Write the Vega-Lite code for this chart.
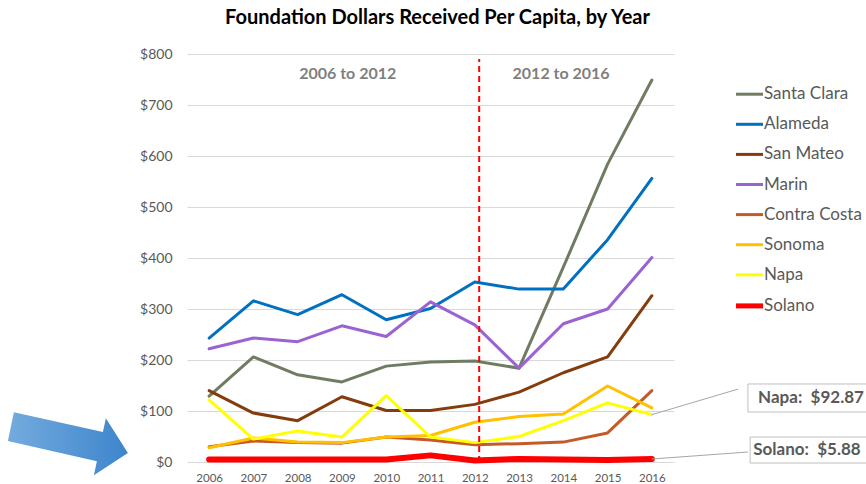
{
  "$schema": "https://vega.github.io/schema/vega-lite/v6.json",
  "width": 487,
  "height": 408,
  "autosize": {"type": "none"},
  "padding": {"left": 187, "top": 54, "right": 192, "bottom": 22},
  "background": "white",
  "config": {"view": {"stroke": null}, "font": "Lato"},
  "title": {"text": "Foundation Dollars Received Per Capita, by Year", "font": "Lato", "fontSize": 20, "fontWeight": "bold", "color": "#000000", "anchor": "middle", "offset": 19, "dx": 7},
  "datasets": {
    "series": [
      {"county": "Santa Clara", "year": 2006, "value": 129},
      {"county": "Santa Clara", "year": 2007, "value": 206},
      {"county": "Santa Clara", "year": 2008, "value": 171},
      {"county": "Santa Clara", "year": 2009, "value": 157},
      {"county": "Santa Clara", "year": 2010, "value": 188},
      {"county": "Santa Clara", "year": 2011, "value": 196},
      {"county": "Santa Clara", "year": 2012, "value": 198},
      {"county": "Santa Clara", "year": 2013, "value": 184},
      {"county": "Santa Clara", "year": 2014, "value": 382},
      {"county": "Santa Clara", "year": 2015, "value": 584},
      {"county": "Santa Clara", "year": 2016, "value": 749},
      {"county": "Alameda", "year": 2006, "value": 243},
      {"county": "Alameda", "year": 2007, "value": 316},
      {"county": "Alameda", "year": 2008, "value": 289},
      {"county": "Alameda", "year": 2009, "value": 328},
      {"county": "Alameda", "year": 2010, "value": 279},
      {"county": "Alameda", "year": 2011, "value": 301},
      {"county": "Alameda", "year": 2012, "value": 353},
      {"county": "Alameda", "year": 2013, "value": 339},
      {"county": "Alameda", "year": 2014, "value": 339},
      {"county": "Alameda", "year": 2015, "value": 436},
      {"county": "Alameda", "year": 2016, "value": 556},
      {"county": "San Mateo", "year": 2006, "value": 140},
      {"county": "San Mateo", "year": 2007, "value": 96},
      {"county": "San Mateo", "year": 2008, "value": 81},
      {"county": "San Mateo", "year": 2009, "value": 128},
      {"county": "San Mateo", "year": 2010, "value": 101},
      {"county": "San Mateo", "year": 2011, "value": 101},
      {"county": "San Mateo", "year": 2012, "value": 113},
      {"county": "San Mateo", "year": 2013, "value": 137},
      {"county": "San Mateo", "year": 2014, "value": 175},
      {"county": "San Mateo", "year": 2015, "value": 206},
      {"county": "San Mateo", "year": 2016, "value": 326},
      {"county": "Marin", "year": 2006, "value": 222},
      {"county": "Marin", "year": 2007, "value": 243},
      {"county": "Marin", "year": 2008, "value": 236},
      {"county": "Marin", "year": 2009, "value": 267},
      {"county": "Marin", "year": 2010, "value": 246},
      {"county": "Marin", "year": 2011, "value": 314},
      {"county": "Marin", "year": 2012, "value": 269},
      {"county": "Marin", "year": 2013, "value": 184},
      {"county": "Marin", "year": 2014, "value": 271},
      {"county": "Marin", "year": 2015, "value": 300},
      {"county": "Marin", "year": 2016, "value": 401},
      {"county": "Contra Costa", "year": 2006, "value": 30},
      {"county": "Contra Costa", "year": 2007, "value": 41},
      {"county": "Contra Costa", "year": 2008, "value": 38},
      {"county": "Contra Costa", "year": 2009, "value": 37},
      {"county": "Contra Costa", "year": 2010, "value": 49},
      {"county": "Contra Costa", "year": 2011, "value": 43},
      {"county": "Contra Costa", "year": 2012, "value": 34},
      {"county": "Contra Costa", "year": 2013, "value": 36},
      {"county": "Contra Costa", "year": 2014, "value": 39},
      {"county": "Contra Costa", "year": 2015, "value": 57},
      {"county": "Contra Costa", "year": 2016, "value": 140},
      {"county": "Sonoma", "year": 2006, "value": 28},
      {"county": "Sonoma", "year": 2007, "value": 47},
      {"county": "Sonoma", "year": 2008, "value": 39},
      {"county": "Sonoma", "year": 2009, "value": 38},
      {"county": "Sonoma", "year": 2010, "value": 49},
      {"county": "Sonoma", "year": 2011, "value": 52},
      {"county": "Sonoma", "year": 2012, "value": 78},
      {"county": "Sonoma", "year": 2013, "value": 89},
      {"county": "Sonoma", "year": 2014, "value": 94},
      {"county": "Sonoma", "year": 2015, "value": 149},
      {"county": "Sonoma", "year": 2016, "value": 106},
      {"county": "Napa", "year": 2006, "value": 122},
      {"county": "Napa", "year": 2007, "value": 45},
      {"county": "Napa", "year": 2008, "value": 61},
      {"county": "Napa", "year": 2009, "value": 49},
      {"county": "Napa", "year": 2010, "value": 130},
      {"county": "Napa", "year": 2011, "value": 49},
      {"county": "Napa", "year": 2012, "value": 38},
      {"county": "Napa", "year": 2013, "value": 50},
      {"county": "Napa", "year": 2014, "value": 81},
      {"county": "Napa", "year": 2015, "value": 116},
      {"county": "Napa", "year": 2016, "value": 92.87},
      {"county": "Solano", "year": 2006, "value": 5},
      {"county": "Solano", "year": 2007, "value": 5},
      {"county": "Solano", "year": 2008, "value": 5},
      {"county": "Solano", "year": 2009, "value": 5},
      {"county": "Solano", "year": 2010, "value": 5},
      {"county": "Solano", "year": 2011, "value": 13},
      {"county": "Solano", "year": 2012, "value": 3},
      {"county": "Solano", "year": 2013, "value": 6},
      {"county": "Solano", "year": 2014, "value": 5},
      {"county": "Solano", "year": 2015, "value": 4},
      {"county": "Solano", "year": 2016, "value": 5.88}
    ]
  },
  "layer": [
    {
      "data": {"name": "series"},
      "mark": {"type": "line", "strokeJoin": "round", "strokeCap": "round"},
      "encoding": {
        "x": {"field": "year", "type": "quantitative",
          "scale": {"domain": [2005.5, 2016.5], "nice": false, "zero": false},
          "axis": {"values": [2006, 2007, 2008, 2009, 2010, 2011, 2012, 2013, 2014, 2015, 2016], "format": "d", "title": null, "grid": false, "domain": false, "ticks": false, "labelFont": "Lato", "labelFontSize": 11.5, "labelColor": "#595959", "labelPadding": 10, "labelFlush": false}},
        "y": {"field": "value", "type": "quantitative",
          "scale": {"domain": [0, 800], "nice": false, "zero": false},
          "axis": {"values": [0, 100, 200, 300, 400, 500, 600, 700, 800], "format": "$.0f", "title": null, "domain": false, "ticks": false, "grid": true, "gridColor": "#d9d9d9", "gridWidth": 1, "labelFont": "Lato", "labelFontSize": 14, "labelColor": "#595959", "labelPadding": 15}},
        "color": {"field": "county", "type": "nominal",
          "scale": {"domain": ["Santa Clara", "Alameda", "San Mateo", "Marin", "Contra Costa", "Sonoma", "Napa", "Solano"],
            "range": ["#6f7c61", "#0070c0", "#843c0c", "#9b63d1", "#c55a28", "#ffc000", "#ffff00", "#ff0000"]},
          "legend": {"title": null, "orient": "none", "legendX": 554, "legendY": 31.7, "symbolType": "stroke", "symbolSize": 729, "symbolStrokeWidth": 3, "labelFont": "Lato", "labelFontSize": 17, "labelColor": "#595959", "labelOffset": 6, "rowPadding": 12.1, "padding": 0,
            "encode": {"symbols": {"update": {"strokeWidth": {"signal": "datum.value === 'Solano' ? 5 : 3"}}}}}},
        "strokeWidth": {"condition": {"test": "datum.county === 'Solano'", "value": 6}, "value": 3}
      }
    },
    {
      "data": {"values": [{"year": 2012.1, "value": 0, "value2": 790}]},
      "mark": {"type": "rule", "color": "#ff0000", "strokeWidth": 2, "strokeDash": [6, 4]},
      "encoding": {
        "x": {"field": "year", "type": "quantitative", "title": null},
        "y": {"field": "value", "type": "quantitative", "title": null},
        "y2": {"field": "value2"}
      }
    },
    {
      "data": {"values": [{"year": 2009.13, "value": 761, "label": "2006 to 2012"}, {"year": 2013.95, "value": 761, "label": "2012 to 2016"}]},
      "mark": {"type": "text", "font": "Lato", "fontSize": 16, "fontWeight": "bold", "color": "#7f7f7f", "align": "center", "baseline": "middle"},
      "encoding": {
        "x": {"field": "year", "type": "quantitative", "title": null},
        "y": {"field": "value", "type": "quantitative", "title": null},
        "text": {"field": "label"}
      }
    },
    {
      "data": {"values": [{"year": 2016, "value": 92.87, "year2": 2017.95, "value2": 143}, {"year": 2016, "value": 5.88, "year2": 2018.17, "value2": 19.6}]},
      "mark": {"type": "rule", "color": "#a6a6a6", "strokeWidth": 1},
      "encoding": {
        "x": {"field": "year", "type": "quantitative", "title": null},
        "y": {"field": "value", "type": "quantitative", "title": null},
        "x2": {"field": "year2"},
        "y2": {"field": "value2"}
      }
    },
    {
      "data": {"values": [{"year": 2018.17, "year2": 2020.95, "value": 153, "value2": 98}, {"year": 2018.22, "year2": 2020.95, "value": 49, "value2": -2}]},
      "mark": {"type": "rect", "fill": "#ffffff", "stroke": "#bfbfbf", "strokeWidth": 1},
      "encoding": {
        "x": {"field": "year", "type": "quantitative", "title": null},
        "y": {"field": "value", "type": "quantitative", "title": null},
        "x2": {"field": "year2"},
        "y2": {"field": "value2"}
      }
    },
    {
      "data": {"values": [{"year": 2018.4, "value": 125.5, "label": "Napa:\u00a0 $92.87"}, {"year": 2018.29, "value": 23.5, "label": "Solano:\u00a0 $5.88"}]},
      "mark": {"type": "text", "font": "Lato", "fontSize": 17, "fontWeight": "bold", "color": "#595959", "align": "left", "baseline": "middle"},
      "encoding": {
        "x": {"field": "year", "type": "quantitative", "title": null},
        "y": {"field": "value", "type": "quantitative", "title": null},
        "text": {"field": "label"}
      }
    },
    {
      "data": {"values": [{"year": 2002.81, "value": 36}]},
      "mark": {"type": "point", "shape": "M-0.9,-0.525L0.583,-0.192L0.633,-0.425L1,0.158L0.433,0.525L0.483,0.292L-1,-0.042Z", "filled": true, "size": 14400, "opacity": 1, "strokeWidth": 0,
        "fill": {"gradient": "linear", "x1": 0, "y1": 0, "x2": 1, "y2": 0, "stops": [{"offset": 0, "color": "#74abde"}, {"offset": 1, "color": "#3d85cc"}]}},
      "encoding": {
        "x": {"field": "year", "type": "quantitative", "title": null},
        "y": {"field": "value", "type": "quantitative", "title": null}
      }
    }
  ]
}
